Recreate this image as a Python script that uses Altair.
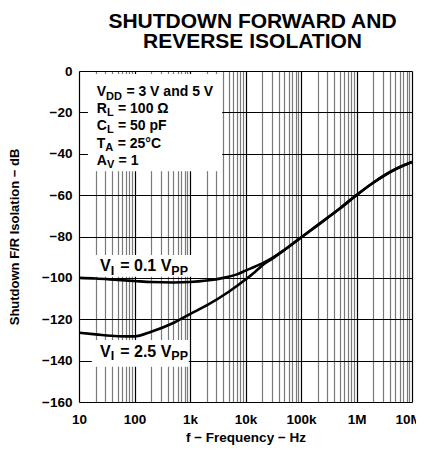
import altair as alt
import pandas as pd

# ---- data ----
freq_01 = [10, 20, 50, 100, 200, 500, 1000, 2000, 4000, 7000, 10000, 15000, 20000,
           30000, 50000, 100000, 200000, 500000, 1e6, 2e6, 5e6, 1e7]
iso_01 = [-100, -100.3, -101, -101.5, -102, -102.2, -102, -101.3, -100, -98.3, -96.5,
          -94.5, -93, -90.5, -86.5, -80.5, -74.5, -66.5, -60, -54, -47.5, -44]

freq_25 = [10, 20, 50, 100, 200, 500, 1000, 2000, 5000, 10000, 15000, 20000, 30000,
           50000, 100000, 200000, 500000, 1e6, 2e6, 5e6, 1e7]
iso_25 = [-126.5, -127.3, -128.2, -128.3, -126, -121.8, -117.5, -113.3, -106.7, -100.8,
          -97, -94, -90.8, -86.5, -80.5, -74.5, -66.5, -60, -54, -47.5, -44]

x_major = [10, 100, 1000, 10000, 100000, 1000000, 10000000]
x_major_labels = ["10", "100", "1k", "10k", "100k", "1M", "10M"]
y_ticks = [-160, -140, -120, -100, -80, -60, -40, -20, 0]

# white label boxes (data coordinates)
box_x1 = [14.5, 15.8, 17]
box_x2 = [3800, 1150, 950]
box_y1 = [-1.5, -89, -130]
box_y2 = [-48.5, -99.5, -143]

# annotation lines: anchor freq, anchor dB, size group, pieces[(text, is_subscript)]
ann_freq = [20.9, 20.9, 20.9, 20.9, 20.9, 24.0, 24.0]
ann_db = [-12.1, -20.3, -28.5, -37.2, -45.4, -96.7, -138.2]
ann_big = [0, 0, 0, 0, 0, 1, 1]
ann_pieces = [
    [("V", 0), ("DD", 1), (" = 3 V and 5 V", 0)],
    [("R", 0), ("L", 1), (" = 100 Ω", 0)],
    [("C", 0), ("L", 1), (" = 50 pF", 0)],
    [("T", 0), ("A", 1), (" = 25°C", 0)],
    [("A", 0), ("V", 1), (" = 1", 0)],
    [("V", 0), ("I", 1), (" = 0.1 V", 0), ("PP", 1)],
    [("V", 0), ("I", 1), (" = 2.5 V", 0), ("PP", 1)],
]

FONT = "Liberation Sans"
SIZES = {0: (14, 11, 0.5), 1: (16, 12.5, 1.5)}   # main size, sub size, gap after sub

# approximate Liberation Sans Bold advance widths (per 1000 em)
W = {' ': 278, '=': 584, '.': 278, 'V': 667, 'D': 722, 'R': 722, 'L': 611, 'C': 722,
     'T': 611, 'A': 722, 'I': 278, 'P': 667, 'a': 556, 'n': 611, 'd': 611, 'p': 611,
     'F': 611, 'Ω': 768, '°': 400}
for c in "0123456789":
    W[c] = 556


def text_width(s, size):
    return sum(W.get(ch, 600) for ch in s) * size / 1000.0


curves = pd.DataFrame(
    [{"f": f, "db": d, "s": "0.1"} for f, d in zip(freq_01, iso_01)]
    + [{"f": f, "db": d, "s": "2.5"} for f, d in zip(freq_25, iso_25)]
)
boxes = pd.DataFrame({"x1": box_x1, "x2": box_x2, "y1": box_y1, "y2": box_y2})

x_values = []
for dec in x_major[:-1]:
    for m in range(1, 10):
        x_values.append(dec * m)
x_values.append(x_major[-1])

label_expr = " : ".join(
    f"datum.value == {v} ? '{l}'" for v, l in zip(x_major, x_major_labels)
) + " : ''"
major_test = "indexof([" + ",".join(str(v) for v in x_major) + "], datum.value) >= 0"

xscale = alt.Scale(type="log", domain=[10, 1e7], nice=False)
yscale = alt.Scale(domain=[-160, 0], nice=False)

xaxis = alt.Axis(
    values=x_values, labelExpr=label_expr, labelOverlap=False, labelFlush=False,
    ticks=False, domain=False, grid=True,
    gridColor={"condition": {"test": major_test, "value": "#000000"}, "value": "#7a7a7a"},
    gridWidth=1.2,
    labelOffset={"condition": {"test": "datum.value == 10000000", "value": -4}, "value": 0},
    labelFont=FONT, labelFontSize=13.5, labelFontWeight="bold", labelColor="black",
    labelPadding=10, title="f − Frequency − Hz", titleFont=FONT, titleFontSize=13.5,
    titleFontWeight="bold", titleColor="black", titlePadding=5,
)
yaxis = alt.Axis(
    values=y_ticks, ticks=False, domain=False, grid=True, gridColor="black", gridWidth=1.2,
    labelFont=FONT, labelFontSize=13.5, labelFontWeight="bold", labelColor="black",
    labelPadding=7, title="Shutdown F/R Isolation − dB", titleFont=FONT, titleFontSize=13,
    titleFontWeight="bold", titleColor="black", titlePadding=20,
)

base_axes = alt.Chart(curves).mark_line(opacity=0).encode(
    x=alt.X("f:Q", scale=xscale, axis=xaxis),
    y=alt.Y("db:Q", scale=yscale, axis=yaxis),
    detail="s:N",
)

rects = alt.Chart(boxes).mark_rect(fill="white").encode(
    x=alt.X("x1:Q", scale=xscale), x2="x2:Q",
    y=alt.Y("y1:Q", scale=yscale), y2="y2:Q",
)

lines = alt.Chart(curves).mark_line(color="black", strokeWidth=2.6, interpolate="monotone").encode(
    x=alt.X("f:Q", scale=xscale),
    y=alt.Y("db:Q", scale=yscale),
    detail="s:N",
)

text_layers = []
for f, db, big, pieces in zip(ann_freq, ann_db, ann_big, ann_pieces):
    main_size, sub_size, gap = SIZES[big]
    off = 0.0
    for txt, sub in pieces:
        size = sub_size if sub else main_size
        stripped = txt.lstrip(" ")
        off += text_width(txt[: len(txt) - len(stripped)], size)
        df = pd.DataFrame({"f": [f], "db": [db], "t": [stripped]})
        text_layers.append(
            alt.Chart(df).mark_text(
                align="left", baseline="alphabetic", font=FONT, fontSize=size,
                fontWeight="bold", color="black", dx=off, dy=3.5 if sub else 0,
            ).encode(
                x=alt.X("f:Q", scale=xscale), y=alt.Y("db:Q", scale=yscale), text="t:N"
            )
        )
        off += text_width(stripped, size) + (gap if sub else 0)

gid = alt.Chart(pd.DataFrame({"t": ["G"]})).mark_text(
    align="left", baseline="alphabetic", font=FONT, fontSize=8, color="#777777"
).encode(x=alt.value(338), y=alt.value(374), text="t:N")

chart = alt.layer(base_axes, rects, lines, *text_layers, gid).properties(
    width=333, height=331,
    autosize=alt.AutoSizeParams(type="none"),
    padding={"left": 71, "top": 63, "right": 4, "bottom": 44},
    title=alt.TitleParams(
        text=["SHUTDOWN FORWARD AND", "REVERSE ISOLATION"], font=FONT, fontSize=21,
        fontWeight="bold", color="black", anchor="middle", dx=7, offset=12, lineHeight=20,
    ),
).configure_view(stroke="black", strokeWidth=1.5).configure(background="white")

chart.save("out.html", embed_options={"renderer": "svg", "actions": False})
